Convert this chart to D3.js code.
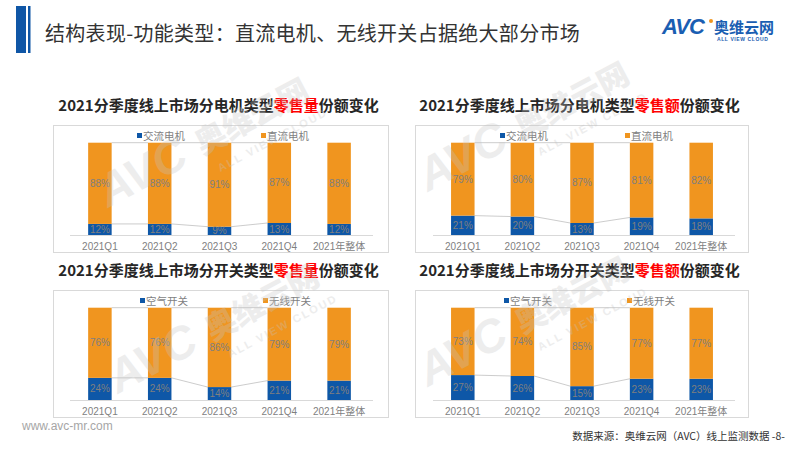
<!DOCTYPE html>
<html>
<head>
<meta charset="utf-8">
<script src="https://cdn.jsdelivr.net/npm/d3@7"></script>
<style>
  html, body { margin: 0; padding: 0; background: #fff; }
  svg { display: block; font-family: "Noto Sans CJK SC", "Noto Sans", sans-serif; }
</style>
</head>
<body>
<svg id="chart" width="800" height="450"></svg>
<script>
// categories shared by all four panels
const categories = ['2021Q1', '2021Q2', '2021Q3', '2021Q4', '2021年整体'];

// motor type share, by volume and by value (%)
const motorVolumeAC = [12, 12, 9, 13, 12];
const motorVolumeDC = [88, 88, 91, 87, 88];
const motorValueAC = [21, 20, 13, 19, 18];
const motorValueDC = [79, 80, 87, 81, 82];

// switch type share, by volume and by value (%)
const switchVolumeAir = [24, 24, 14, 21, 21];
const switchVolumeWireless = [76, 76, 86, 79, 79];
const switchValueAir = [27, 26, 15, 23, 23];
const switchValueWireless = [73, 74, 85, 77, 77];

const BLUE = '#0e57a7';
const ORANGE = '#f0951f';
const GREY_TEXT = '#7f7f7f';

const svg = d3.select('#chart');

// ---- page header ----
svg.append('rect').attr('x', 16).attr('y', 6).attr('width', 10).attr('height', 47).attr('fill', '#0f56a6');
svg.append('rect').attr('x', 28).attr('y', 6).attr('width', 2.5).attr('height', 47).attr('fill', '#0f56a6');

svg.append('text')
  .attr('x', 45)
  .attr('y', 41)
  .attr('font-size', 20)
  .attr('letter-spacing', 0.3)
  .attr('fill', '#333')
  .text('结构表现-功能类型：直流电机、无线开关占据绝大部分市场');

// logo
const logo = svg.append('g').attr('transform', 'translate(662,34)');
logo.append('text')
  .attr('x', 0).attr('y', 0)
  .attr('font-family', 'Arial, "Liberation Sans", sans-serif')
  .attr('font-size', 22).attr('font-weight', 900).attr('font-style', 'italic')
  .attr('fill', '#1a5eb2')
  .attr('letter-spacing', -1)
  .text('AVC');
logo.append('circle').attr('cx', 49).attr('cy', -13).attr('r', 2).attr('fill', ORANGE);
logo.append('text')
  .attr('x', 52).attr('y', -1)
  .attr('font-size', 15).attr('font-weight', 700)
  .attr('fill', '#1a5eb2')
  .text('奥维云网');
logo.append('text')
  .attr('x', 55).attr('y', 7)
  .attr('font-family', 'Arial, "Liberation Sans", sans-serif')
  .attr('font-size', 5).attr('font-weight', 700)
  .attr('letter-spacing', 0.6)
  .attr('fill', '#1a5eb2')
  .text('ALL VIEW CLOUD');

// ---- footer ----
svg.append('text')
  .attr('x', 22).attr('y', 430)
  .attr('font-family', 'Arial, "Liberation Sans", sans-serif')
  .attr('font-size', 12).attr('fill', '#a6a6a6')
  .text('www.avc-mr.com');

svg.append('text')
  .attr('x', 785).attr('y', 440)
  .attr('text-anchor', 'end')
  .attr('font-size', 10.5).attr('fill', '#333')
  .text('数据来源：奥维云网（AVC）线上监测数据 -8-');

/**
 * Draws one 100% stacked bar panel with its title, legend, labels and series lines.
 */
function drawPanel(opts) {
  const { left, top, width, titleParts, seriesNames, lower, upper, axisLeft, axisRight, legendX } = opts;
  const g = svg.append('g');

  // title
  const title = g.append('text')
    .attr('x', left + width / 2 - 2)
    .attr('y', top - 14)
    .attr('text-anchor', 'middle')
    .attr('font-size', 15)
    .attr('font-weight', 700)
    .attr('fill', '#262626');
  titleParts.forEach((p) => {
    title.append('tspan').attr('fill', p.red ? '#ff0000' : '#262626').text(p.text);
  });

  // frame
  g.append('rect')
    .attr('x', left + 0.5).attr('y', top + 0.5)
    .attr('width', width).attr('height', 127)
    .attr('fill', '#fff')
    .attr('stroke', '#d9d9d9');

  const rows = categories.map((c, i) => ({ cat: c, a: lower[i], b: upper[i] }));
  const stacked = d3.stack().keys(['a', 'b'])(rows);

  const x = d3.scaleBand().domain(categories).range([axisLeft, axisRight]);
  const y = d3.scaleLinear().domain([0, 100]).range([top + 110, top + 17.7]);
  const barW = 23.5;
  const colors = [BLUE, ORANGE];

  // series lines between the quarterly bars
  stacked.forEach((layer) => {
    for (let i = 0; i < 3; i++) {
      g.append('line')
        .attr('x1', x(categories[i]) + x.bandwidth() / 2 + barW / 2)
        .attr('x2', x(categories[i + 1]) + x.bandwidth() / 2 - barW / 2)
        .attr('y1', y(layer[i][1]))
        .attr('y2', y(layer[i + 1][1]))
        .attr('stroke', '#bfbfbf')
        .attr('stroke-width', 0.8);
    }
  });

  // bars
  stacked.forEach((layer, k) => {
    g.append('g')
      .selectAll('rect')
      .data(layer)
      .join('rect')
      .attr('x', (d) => x(d.data.cat) + x.bandwidth() / 2 - barW / 2)
      .attr('y', (d) => y(d[1]))
      .attr('width', barW)
      .attr('height', (d) => y(d[0]) - y(d[1]))
      .attr('fill', colors[k]);

    g.append('g')
      .selectAll('text')
      .data(layer)
      .join('text')
      .attr('x', (d) => x(d.data.cat) + x.bandwidth() / 2)
      .attr('y', (d) => (y(d[0]) + y(d[1])) / 2 + 3.5)
      .attr('text-anchor', 'middle')
      .attr('font-family', 'Arial, "Liberation Sans", sans-serif')
      .attr('font-size', 10)
      .attr('fill', GREY_TEXT)
      .text((d) => `${d[1] - d[0]}%`);
  });

  // x axis
  const axis = g.append('g')
    .attr('transform', `translate(0,${top + 110})`)
    .call(d3.axisBottom(x).tickSize(0).tickPadding(8));
  axis.select('.domain').attr('stroke', '#d9d9d9').attr('d', `M${axisLeft},0.5H${axisRight + 4}`);
  axis.selectAll('text')
    .attr('font-size', 10)
    .attr('font-family', 'Arial, "Noto Sans CJK SC", sans-serif')
    .attr('fill', GREY_TEXT);

  // legend
  seriesNames.forEach((name, k) => {
    const lx = legendX[k];
    g.append('rect')
      .attr('x', lx).attr('y', top + 8)
      .attr('width', 5).attr('height', 5)
      .attr('fill', colors[k]);
    g.append('text')
      .attr('x', lx + 6).attr('y', top + 14.5)
      .attr('font-size', 10.5)
      .attr('fill', GREY_TEXT)
      .text(name);
  });
}

drawPanel({
  left: 53, top: 125, width: 335,
  titleParts: [{ text: '2021分季度线上市场分电机类型' }, { text: '零售量', red: true }, { text: '份额变化' }],
  seriesNames: ['交流电机', '直流电机'],
  lower: motorVolumeAC, upper: motorVolumeDC,
  axisLeft: 70, axisRight: 369, legendX: [137, 261]
});

drawPanel({
  left: 415, top: 125, width: 333,
  titleParts: [{ text: '2021分季度线上市场分电机类型' }, { text: '零售额', red: true }, { text: '份额变化' }],
  seriesNames: ['交流电机', '直流电机'],
  lower: motorValueAC, upper: motorValueDC,
  axisLeft: 433, axisRight: 731, legendX: [500, 625]
});

drawPanel({
  left: 53, top: 290, width: 335,
  titleParts: [{ text: '2021分季度线上市场分开关类型' }, { text: '零售量', red: true }, { text: '份额变化' }],
  seriesNames: ['空气开关', '无线开关'],
  lower: switchVolumeAir, upper: switchVolumeWireless,
  axisLeft: 70, axisRight: 369, legendX: [140, 263]
});

drawPanel({
  left: 415, top: 290, width: 333,
  titleParts: [{ text: '2021分季度线上市场分开关类型' }, { text: '零售额', red: true }, { text: '份额变化' }],
  seriesNames: ['空气开关', '无线开关'],
  lower: switchValueAir, upper: switchValueWireless,
  axisLeft: 433, axisRight: 731, legendX: [504, 627]
});

// ---- faint diagonal watermark ----
function drawWatermark(ox, oy) {
  const w = svg.append('g')
    .attr('transform', `translate(${ox},${oy}) rotate(-28)`)
    .attr('fill', '#c4c4c4')
    .attr('opacity', 0.3)
    .style('pointer-events', 'none');
  w.append('text')
    .attr('font-family', 'Arial, "Liberation Sans", sans-serif')
    .attr('font-size', 46).attr('font-weight', 900).attr('font-style', 'italic')
    .text('AVC');
  w.append('text')
    .attr('x', 108).attr('y', -2)
    .attr('font-size', 31).attr('font-weight', 900)
    .text('奥维云网');
  w.append('text')
    .attr('x', 116).attr('y', 21)
    .attr('font-family', 'Arial, "Liberation Sans", sans-serif')
    .attr('font-size', 11).attr('font-weight', 700).attr('letter-spacing', 2)
    .text('ALL VIEW CLOUD');
}

drawWatermark(108, 208);
drawWatermark(428, 192);
drawWatermark(118, 394);
drawWatermark(428, 387);
</script>
</body>
</html>
